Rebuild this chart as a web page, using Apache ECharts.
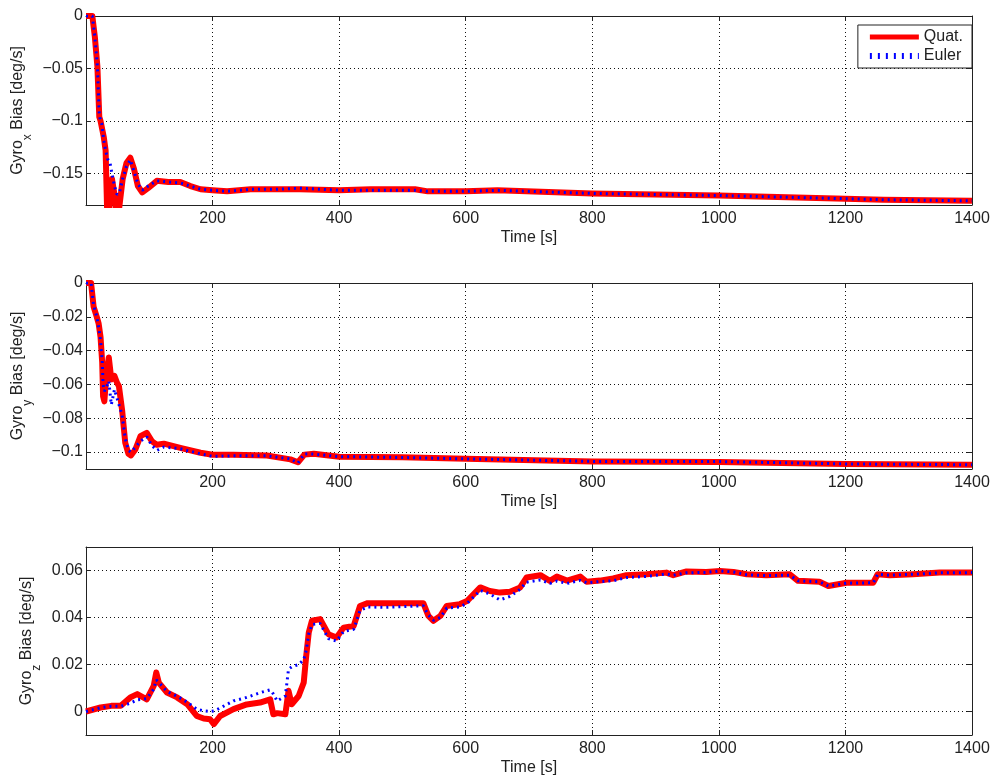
<!DOCTYPE html>
<html>
<head>
<meta charset="utf-8">
<script src="https://cdn.jsdelivr.net/npm/echarts@6/dist/echarts.min.js"></script>
<style>
  html, body { margin: 0; padding: 0; background: #fff; }
  #chart { width: 995px; height: 782px; }
</style>
</head>
<body>
<div id="chart"></div>
<script>
// ---- Gyro x bias estimate [deg/s] ----
const timeX = [0, 10, 14, 18, 21, 23, 25, 28, 31, 34, 38, 41, 45, 49, 53, 58, 64, 70, 76, 82, 89, 98, 112, 130, 149, 165, 181, 200, 223, 260, 300, 338, 400, 450, 520, 540, 600, 650, 800, 1000, 1200, 1260, 1400];
const gyroXQuat = [0, 0, -0.02, -0.048, -0.096, -0.100, -0.101, -0.115, -0.128, -0.200, -0.170, -0.155, -0.170, -0.200, -0.180, -0.155, -0.140, -0.135, -0.146, -0.162, -0.168, -0.164, -0.157, -0.158, -0.158, -0.162, -0.165, -0.166, -0.167, -0.165, -0.165, -0.165, -0.166, -0.165, -0.165, -0.167, -0.167, -0.166, -0.169, -0.171, -0.174, -0.175, -0.176];
const gyroXEuler = [0, 0, -0.02, -0.048, -0.094, -0.100, -0.103, -0.118, -0.128, -0.136, -0.140, -0.150, -0.162, -0.170, -0.168, -0.155, -0.143, -0.137, -0.148, -0.160, -0.166, -0.162, -0.157, -0.158, -0.159, -0.162, -0.165, -0.166, -0.167, -0.165, -0.165, -0.164, -0.166, -0.166, -0.166, -0.167, -0.167, -0.166, -0.169, -0.171, -0.174, -0.175, -0.176];

// ---- Gyro y bias estimate [deg/s] ----
const timeY = [0, 8, 12, 17, 20, 23, 25.6, 27, 29, 32, 36, 40, 45, 49, 52, 57, 62, 67, 71, 78, 86, 96, 104, 112, 123, 149, 181, 200, 233, 286, 323, 335, 345, 360, 400, 500, 600, 800, 1000, 1200, 1400];
const gyroYQuat = [0, 0, -0.014, -0.020, -0.024, -0.032, -0.047, -0.067, -0.070, -0.055, -0.044, -0.057, -0.055, -0.059, -0.061, -0.075, -0.0945, -0.101, -0.102, -0.0985, -0.0906, -0.0886, -0.0935, -0.0957, -0.095, -0.0975, -0.1004, -0.1016, -0.1016, -0.102, -0.1043, -0.106, -0.1015, -0.101, -0.1027, -0.103, -0.104, -0.1055, -0.1058, -0.107, -0.1075];
const gyroYEuler = [0, 0, -0.013, -0.020, -0.026, -0.034, -0.046, -0.060, -0.064, -0.062, -0.058, -0.072, -0.063, -0.068, -0.068, -0.078, -0.092, -0.099, -0.100, -0.097, -0.0935, -0.091, -0.096, -0.099, -0.097, -0.098, -0.101, -0.1025, -0.1022, -0.1022, -0.104, -0.1065, -0.101, -0.1012, -0.1027, -0.1032, -0.104, -0.1055, -0.1056, -0.107, -0.1075];

// ---- Gyro z bias estimate [deg/s] ----
const timeZ = [0, 23, 40, 55, 70, 81, 96, 107, 111, 115, 128, 144, 160, 175, 186, 196, 202, 212, 233, 254, 275, 291, 296, 302, 315, 320, 325, 336, 344, 348, 352, 357, 370, 383, 396, 407, 423, 433, 445, 470, 533, 541, 549, 560, 570, 591, 602, 623, 638, 654, 670, 686, 696, 718, 733, 744, 760, 781, 791, 812, 833, 854, 886, 917, 928, 949, 980, 1002, 1023, 1044, 1075, 1112, 1125, 1159, 1173, 1202, 1244, 1251, 1270, 1307, 1349, 1400];
const gyroZQuat = [0, 0.0017, 0.0024, 0.0024, 0.006, 0.0074, 0.0052, 0.0109, 0.0166, 0.0123, 0.0081, 0.006, 0.0031, -0.0019, -0.003, -0.0033, -0.0054, -0.0019, 0.001, 0.003, 0.0038, 0.0052, -0.0012, -0.0007, -0.0012, 0.0088, 0.0031, 0.0066, 0.0123, 0.0237, 0.0336, 0.0386, 0.0393, 0.0329, 0.0315, 0.0357, 0.0364, 0.0449, 0.0461, 0.0461, 0.0461, 0.0407, 0.0386, 0.0407, 0.0449, 0.0457, 0.047, 0.0528, 0.0513, 0.0506, 0.051, 0.0528, 0.057, 0.058, 0.0556, 0.0574, 0.0557, 0.0574, 0.0552, 0.0557, 0.0566, 0.058, 0.0584, 0.0591, 0.058, 0.0596, 0.0594, 0.0598, 0.0594, 0.0584, 0.058, 0.0584, 0.0556, 0.0552, 0.0534, 0.0548, 0.0548, 0.0584, 0.058, 0.0584, 0.0591, 0.0591];
const gyroZEuler = [0, 0.0016, 0.0022, 0.0022, 0.0035, 0.005, 0.0055, 0.0095, 0.0135, 0.0125, 0.0085, 0.0065, 0.004, 0.001, 0.0003, 0.0, 0.0002, 0.0015, 0.0045, 0.006, 0.008, 0.0092, 0.0075, 0.0045, 0.0066, 0.018, 0.019, 0.020, 0.022, 0.026, 0.033, 0.037, 0.0375, 0.031, 0.030, 0.034, 0.035, 0.043, 0.0445, 0.0443, 0.045, 0.041, 0.0388, 0.040, 0.044, 0.0445, 0.046, 0.0515, 0.050, 0.0475, 0.049, 0.052, 0.055, 0.056, 0.0545, 0.0555, 0.0545, 0.0558, 0.0548, 0.0553, 0.0556, 0.057, 0.0575, 0.0585, 0.058, 0.059, 0.0592, 0.0598, 0.0594, 0.0582, 0.0578, 0.058, 0.0556, 0.0552, 0.0534, 0.0546, 0.0548, 0.0584, 0.058, 0.0584, 0.059, 0.0591];

// ---- Axis tick values ----
const yTicksX = [0, -0.05, -0.1, -0.15];
const yTicksY = [0, -0.02, -0.04, -0.06, -0.08, -0.1];
const yTicksZ = [0, 0.02, 0.04, 0.06];
const timeMin = 0, timeMax = 1400, timeStep = 200;

const FONT = '"Liberation Sans", Arial, sans-serif';
const FS = 16;
const INK = '#222';
const gridDots = { color: '#111', width: 1, type: [1, 3] };

function pairs(t, v) { return t.map((x, i) => [x, v[i]]); }
function fmt(v) { return v === 0 ? '0' : String(+v.toFixed(4)).replace('-', '\u2212'); }

const panels = [
  { t: timeX, q: gyroXQuat, e: gyroXEuler, min: -0.18, max: 0, ticks: yTicksX, sub: 'x', top: 16, height: 189, gap: 52 },
  { t: timeY, q: gyroYQuat, e: gyroYEuler, min: -0.11, max: 0, ticks: yTicksY, sub: 'y', top: 283, height: 186, gap: 52 },
  { t: timeZ, q: gyroZQuat, e: gyroZEuler, min: -0.01, max: 0.07, ticks: yTicksZ, sub: 'z', top: 547, height: 188, gap: 43 }
];

const grid = [], xAxis = [], yAxis = [], series = [];
panels.forEach((p, i) => {
  grid.push({ left: 86, top: p.top, width: 886, height: p.height, containLabel: false });
  // bottom time axis with labels and dotted grid
  xAxis.push({
    type: 'value', gridIndex: i, min: timeMin, max: timeMax, interval: timeStep,
    name: 'Time [s]', nameLocation: 'middle', nameGap: 25, nameMoveOverlap: false,
    nameTextStyle: { fontFamily: FONT, fontSize: FS, color: INK },
    axisLine: { show: true, onZero: false, lineStyle: { color: INK, width: 1 } },
    axisTick: { show: true, inside: true, length: 5, lineStyle: { color: INK } },
    axisLabel: { margin: 6, fontFamily: FONT, fontSize: FS, color: INK,
                 formatter: v => (v === timeMin ? '' : String(v)) },
    splitLine: { show: true, lineStyle: gridDots }
  });
  // top edge of the box
  xAxis.push({
    type: 'value', gridIndex: i, position: 'top', min: timeMin, max: timeMax, interval: timeStep,
    axisLine: { show: true, onZero: false, lineStyle: { color: INK, width: 1 } },
    axisTick: { show: true, inside: true, length: 5, lineStyle: { color: INK } },
    axisLabel: { show: false }, splitLine: { show: false }
  });
  const yName = '{n|Gyro}{s|' + p.sub + '}{n| Bias [deg/s]}';
  yAxis.push({
    type: 'value', gridIndex: i, min: p.min, max: p.max,
    name: yName, nameLocation: 'middle', nameGap: p.gap, nameRotate: 90, nameMoveOverlap: false,
    nameTextStyle: {
      fontFamily: FONT, fontSize: FS, color: INK,
      rich: {
        n: { fontFamily: FONT, fontSize: FS, color: INK },
        s: { fontFamily: FONT, fontSize: 12, color: INK, padding: [20, 0, 0, 0] }
      }
    },
    axisLine: { show: true, onZero: false, lineStyle: { color: INK, width: 1 } },
    axisTick: { show: true, inside: true, length: 5, lineStyle: { color: INK }, customValues: p.ticks },
    axisLabel: { margin: 3, fontFamily: FONT, fontSize: FS, color: INK, customValues: p.ticks, formatter: fmt },
    splitLine: { show: true, lineStyle: gridDots }
  });
  // right edge of the box
  yAxis.push({
    type: 'value', gridIndex: i, position: 'right', min: p.min, max: p.max,
    axisLine: { show: true, onZero: false, lineStyle: { color: INK, width: 1 } },
    axisTick: { show: true, inside: true, length: 5, lineStyle: { color: INK }, customValues: p.ticks },
    axisLabel: { show: false }, splitLine: { show: false }
  });
  series.push({
    name: 'Quat.', type: 'line', xAxisIndex: 2 * i, yAxisIndex: 2 * i,
    data: pairs(p.t, p.q), symbol: 'none', smooth: false, animation: false,
    lineStyle: { color: '#ff0000', width: 6, cap: 'butt', join: 'round' },
    itemStyle: { color: '#ff0000' }, z: 3
  });
  series.push({
    name: 'Euler', type: 'line', xAxisIndex: 2 * i, yAxisIndex: 2 * i,
    data: pairs(p.t, p.e), symbol: 'none', smooth: false, animation: false,
    lineStyle: { color: '#0000ff', width: 3, type: [2, 4], cap: 'butt' },
    itemStyle: { color: '#0000ff' }, z: 4
  });
});

const chart = echarts.init(document.getElementById('chart'), null, { renderer: 'canvas' });
chart.setOption({
  backgroundColor: '#fff',
  animation: false,
  grid, xAxis, yAxis, series,
  legend: {
    orient: 'vertical', right: 23, top: 25,
    padding: [4, 9, 4, 9], itemGap: 3, itemWidth: 49, itemHeight: 14,
    backgroundColor: '#fff', borderColor: INK, borderWidth: 1,
    textStyle: { fontFamily: FONT, fontSize: FS, color: INK },
    itemStyle: { opacity: 0 },
    lineStyle: { width: 'inherit' },
    data: [
      { name: 'Quat.', lineStyle: { width: 5 } },
      { name: 'Euler', lineStyle: { width: 6, type: [2, 6] } }
    ],
    selectedMode: false
  }
});
</script>
</body>
</html>
